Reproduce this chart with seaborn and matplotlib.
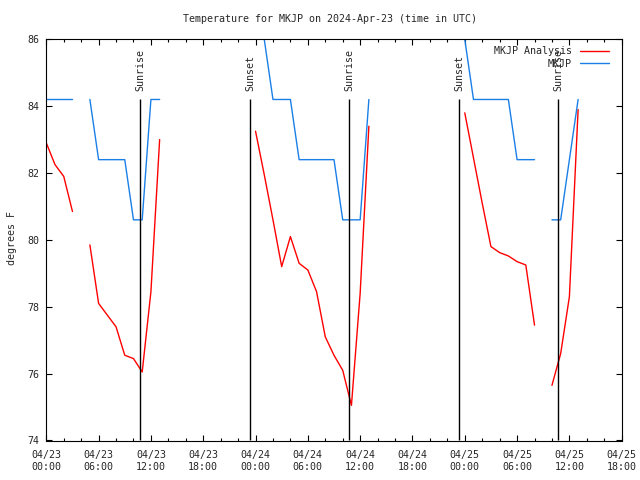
import numpy as np
import pandas as pd
import matplotlib
matplotlib.use("Agg")
import matplotlib.pyplot as plt
import matplotlib.dates as mdates
from matplotlib.lines import Line2D
import seaborn as sns

sns.set_style("ticks")
plt.rcParams["font.family"] = ["DejaVu Sans Mono"]
plt.rcParams["font.size"] = 7.2

# hours since 2024-04-23 00:00 UTC
analysis_hours = [0, 1, 2, 3,
                  5, 6, 7, 8, 9, 10, 11, 12, 13,
                  24, 25, 26, 27, 28, 29, 30, 31, 32, 33, 34, 35, 36, 37,
                  48, 49, 50, 51, 52, 53, 54, 55, 56,
                  58, 59, 60, 61]
analysis_temp = [82.9, 82.25, 81.9, 80.85,
                 79.85, 78.1, 77.75, 77.4, 76.55, 76.45, 76.05, 78.45, 83.0,
                 83.25, 81.95, 80.6, 79.2, 80.1, 79.3, 79.1, 78.45, 77.1, 76.55, 76.1, 75.05, 78.4, 83.4,
                 83.8, 82.45, 81.1, 79.8, 79.62, 79.52, 79.35, 79.25, 77.45,
                 75.65, 76.6, 78.3, 83.9]

obs_hours = [0, 1, 2, 3,
             5, 6, 7, 8, 9, 10, 11, 12, 13,
             25, 26, 27, 28, 29, 30, 31, 32, 33, 34, 35, 36, 37,
             48, 49, 50, 51, 52, 53, 54, 55, 56,
             58, 59, 60, 61]
obs_temp = [84.2, 84.2, 84.2, 84.2,
            84.2, 82.4, 82.4, 82.4, 82.4, 80.6, 80.6, 84.2, 84.2,
            86.0, 84.2, 84.2, 84.2, 82.4, 82.4, 82.4, 82.4, 82.4, 80.6, 80.6, 80.6, 84.2,
            86.0, 84.2, 84.2, 84.2, 84.2, 84.2, 82.4, 82.4, 82.4,
            80.6, 80.6, 82.4, 84.2]

sunrise = ["2024-04-23 10:48", "2024-04-24 10:46", "2024-04-25 10:45"]
sunset = ["2024-04-23 23:22", "2024-04-24 23:23"]

start = pd.Timestamp("2024-04-23 00:00")


def make_df(hours, temp):
    h = np.array(hours)
    seg = np.concatenate([[0], (np.diff(h) > 1).cumsum()])
    return pd.DataFrame({"time": start + pd.to_timedelta(h, unit="h"),
                         "temp": temp, "seg": seg})


df_an = make_df(analysis_hours, analysis_temp)
df_ob = make_df(obs_hours, obs_temp)

red = "#ff0000"
blue = "#1a80e8"

fig, ax = plt.subplots(figsize=(6.4, 4.8), dpi=100)
fig.subplots_adjust(left=46.3 / 640, right=621.7 / 640,
                    top=1 - 39.3 / 480, bottom=1 - 440.5 / 480)

sns.lineplot(data=df_an, x="time", y="temp", units="seg", estimator=None,
             color=red, lw=1, ax=ax)
sns.lineplot(data=df_ob, x="time", y="temp", units="seg", estimator=None,
             color=blue, lw=1, ax=ax)

# sunrise / sunset markers
for t in sunrise + sunset:
    ts = pd.Timestamp(t)
    ax.vlines(ts, 74, 84.2, color="black", lw=1)
    ax.text(ts, 84.45, "Sunrise" if t in sunrise else "Sunset",
            rotation=90, ha="center", va="bottom", fontsize=7.2)

ax.set_xlim(start, pd.Timestamp("2024-04-25 18:00"))
ax.set_ylim(74, 86)
ax.set_yticks(np.arange(74, 87, 2))
ax.xaxis.set_major_locator(mdates.HourLocator(byhour=[0, 6, 12, 18]))
ax.xaxis.set_minor_locator(mdates.HourLocator(byhour=range(0, 24, 2)))
ax.xaxis.set_major_formatter(mdates.DateFormatter("%m/%d\n%H:%M"))
ax.tick_params(which="both", direction="in", top=True, right=True,
               labelsize=7.2, color="black")
ax.tick_params(which="major", length=4, width=0.8)
ax.tick_params(which="minor", length=2.5, width=0.8)
ax.tick_params(axis="x", pad=7)
ax.tick_params(axis="y", pad=5)
for s in ax.spines.values():
    s.set_color("black")
    s.set_linewidth(0.8)
ax.set_xlabel("")
ax.set_ylabel("")

handles = [Line2D([], [], color=red, lw=1), Line2D([], [], color=blue, lw=1)]
ax.legend(handles, ["MKJP Analysis", "MKJP"], loc="upper right",
          bbox_to_anchor=(1 - 8 / 575, 1 - 2 / 401), frameon=False, markerfirst=False,
          handlelength=2.9, handletextpad=0.8, labelspacing=0.25,
          borderaxespad=0.1, fontsize=7.2)

fig.text(330 / 640, 1 - 19 / 480, "Temperature for MKJP on 2024-Apr-23 (time in UTC)",
         ha="center", va="center", fontsize=7.2)
fig.text(12 / 640, 1 - 238 / 480, "degrees F", rotation=90,
         ha="center", va="center", fontsize=7.2)

fig.savefig("out.png", dpi=100)
